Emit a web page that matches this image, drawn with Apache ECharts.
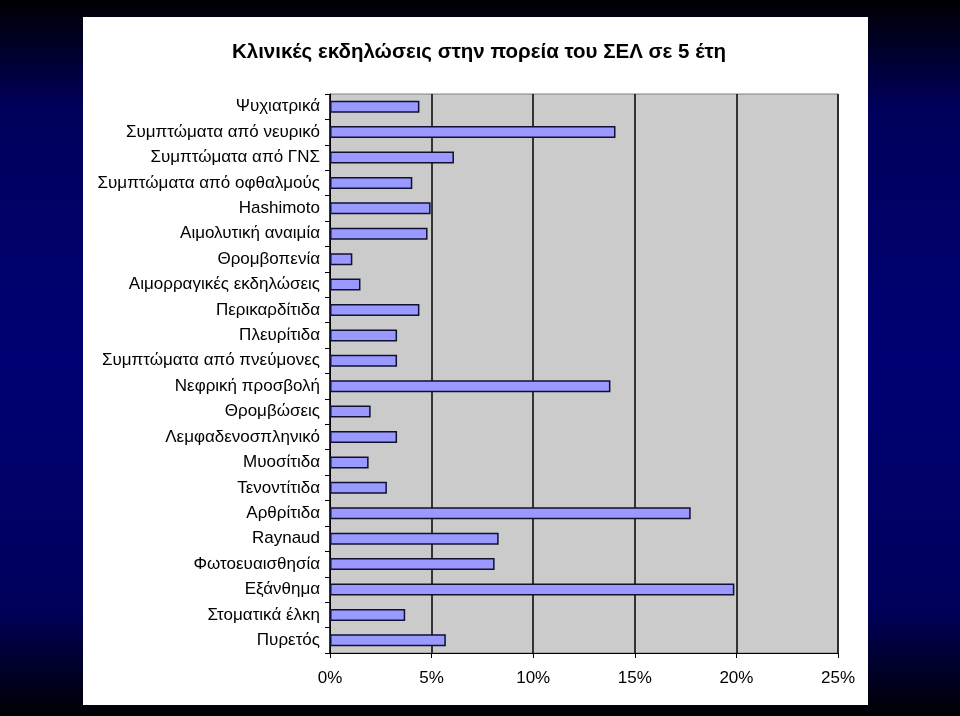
<!DOCTYPE html>
<html lang="el">
<head>
    <meta charset="utf-8">
    <title>Κλινικές εκδηλώσεις</title>
    <script src="https://cdn.jsdelivr.net/npm/echarts@6/dist/echarts.min.js"></script>
    <style>
        html, body { margin: 0; padding: 0; }
        #main { width: 960px; height: 716px; }
    </style>
</head>
<body>
<div id="main"></div>
<script>
    // κατηγορίες από πάνω προς τα κάτω
    var categories = [
        'Ψυχιατρικά', 'Συμπτώματα από νευρικό', 'Συμπτώματα από ΓΝΣ', 'Συμπτώματα από οφθαλμούς',
        'Hashimoto', 'Αιμολυτική αναιμία', 'Θρομβοπενία', 'Αιμορραγικές εκδηλώσεις',
        'Περικαρδίτιδα', 'Πλευρίτιδα', 'Συμπτώματα από πνεύμονες', 'Νεφρική προσβολή',
        'Θρομβώσεις', 'Λεμφαδενοσπληνικό', 'Μυοσίτιδα', 'Τενοντίτιδα', 'Αρθρίτιδα',
        'Raynaud', 'Φωτοευαισθησία', 'Εξάνθημα', 'Στοματικά έλκη', 'Πυρετός'
    ];
    // ποσοστά (%)
    var percents = [
        4.4, 14.05, 6.1, 4.05,
        4.95, 4.8, 1.1, 1.5,
        4.4, 3.3, 3.3, 13.8,
        2.0, 3.3, 1.9, 2.8, 17.75,
        8.3, 8.1, 19.9, 3.7, 5.7
    ];
    var xTicks = [0, 5, 10, 15, 20, 25];

    var myChart = echarts.init(document.getElementById('main'));

    var option = {
        backgroundColor: {
            type: 'linear', x: 0, y: 0, x2: 0, y2: 1,
            colorStops: [
                {offset: 0, color: '#000002'},
                {offset: 0.15, color: '#00005c'},
                {offset: 0.5, color: '#000074'},
                {offset: 0.85, color: '#00005c'},
                {offset: 1, color: '#000002'}
            ]
        },
        animation: false,
        graphic: [{
            type: 'rect', z: -100,
            shape: {x: 83, y: 17, width: 785, height: 688},
            style: {fill: '#ffffff'}
        }],
        title: {
            text: 'Κλινικές εκδηλώσεις στην πορεία του ΣΕΛ σε 5 έτη',
            left: 474, top: 37, textAlign: 'center',
            textStyle: {fontFamily: 'Liberation Sans', fontSize: 20.5, fontWeight: 'bold', color: '#000'}
        },
        grid: {
            left: 330, right: 122, top: 94, bottom: 63,
            show: true, backgroundColor: '#cbcbcb', borderColor: '#808080', borderWidth: 1
        },
        xAxis: {
            type: 'value', min: xTicks[0], max: xTicks[xTicks.length - 1], interval: 5,
            axisLine: {show: true, lineStyle: {color: '#000', width: 1}},
            axisTick: {show: true, length: 5, lineStyle: {color: '#000'}},
            splitLine: {show: true, lineStyle: {color: '#000', width: 1.5}},
            axisLabel: {
                formatter: '{value}%', margin: 17,
                fontFamily: 'Liberation Sans', fontSize: 17, color: '#000'
            }
        },
        yAxis: {
            type: 'category', inverse: true, data: categories,
            axisLine: {show: true, lineStyle: {color: '#000', width: 1}},
            axisTick: {show: true, length: 5, lineStyle: {color: '#000'}},
            axisLabel: {margin: 10, fontFamily: 'Liberation Sans', fontSize: 17, color: '#000'}
        },
        series: [{
            type: 'bar', data: percents, barWidth: 12,
            itemStyle: {color: '#9999ff', borderColor: '#101030', borderWidth: 1.5}
        }]
    };

    myChart.setOption(option);
</script>
</body>
</html>
